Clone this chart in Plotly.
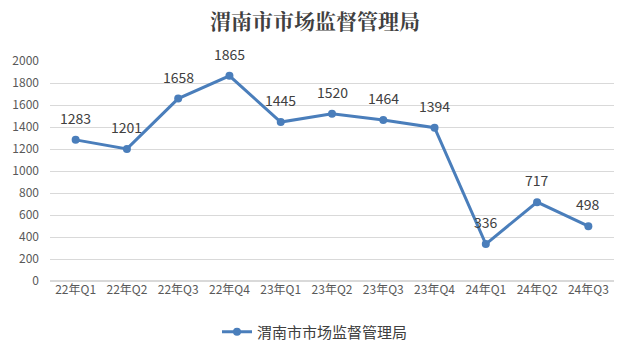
import plotly.graph_objects as go

categories = ["22年Q1", "22年Q2", "22年Q3", "22年Q4", "23年Q1", "23年Q2", "23年Q3",
              "23年Q4", "24年Q1", "24年Q2", "24年Q3"]
values = [1283, 1201, 1658, 1865, 1445, 1520, 1464, 1394, 336, 717, 498]
series_name = "渭南市市场监督管理局"
y_ticks = [0, 200, 400, 600, 800, 1000, 1200, 1400, 1600, 1800, 2000]

color = "#4a7ebb"
font_family = "Noto Sans CJK SC, Noto Sans, sans-serif"

fig = go.Figure()
fig.add_trace(go.Scatter(
    x=categories, y=values, name=series_name,
    mode="lines+markers",
    line=dict(color=color, width=3),
    marker=dict(color=color, size=8),
    cliponaxis=False,
))

for c, v in zip(categories, values):
    fig.add_annotation(x=c, y=v, text=str(v), showarrow=False, yshift=22,
                       font=dict(size=14, color="#404040", family=font_family))

fig.update_layout(
    width=630, height=355,
    margin=dict(l=50, r=16, t=61, b=74, autoexpand=False),
    paper_bgcolor="white", plot_bgcolor="white",
    title=dict(text="<b>" + series_name + "</b>", x=0.5, xanchor="center", y=0.94, yanchor="middle",
               font=dict(size=21, color="#404040", family="Noto Serif CJK SC, Noto Sans CJK SC, serif")),
    font=dict(family=font_family, color="#595959"),
    showlegend=True,
    legend=dict(orientation="h", xref="container", x=0.5, xanchor="center", yref="container",
                y=0.065, yanchor="middle", font=dict(size=15, color="#404040")),
    xaxis=dict(showgrid=False, showline=False, ticks="", tickfont=dict(size=12, color="#595959"),
               tickangle=0, automargin=False, range=[-0.5, len(categories) - 0.5]),
    yaxis=dict(range=[0, 2000], tickvals=y_ticks, showgrid=True, gridcolor="#d9d9d9", gridwidth=1,
               zeroline=True, zerolinecolor="#d9d9d9", tickfont=dict(size=12, color="#595959"),
               ticks="", ticklen=0, ticklabelstandoff=10, automargin=False),
)

fig.write_html("out.html")
